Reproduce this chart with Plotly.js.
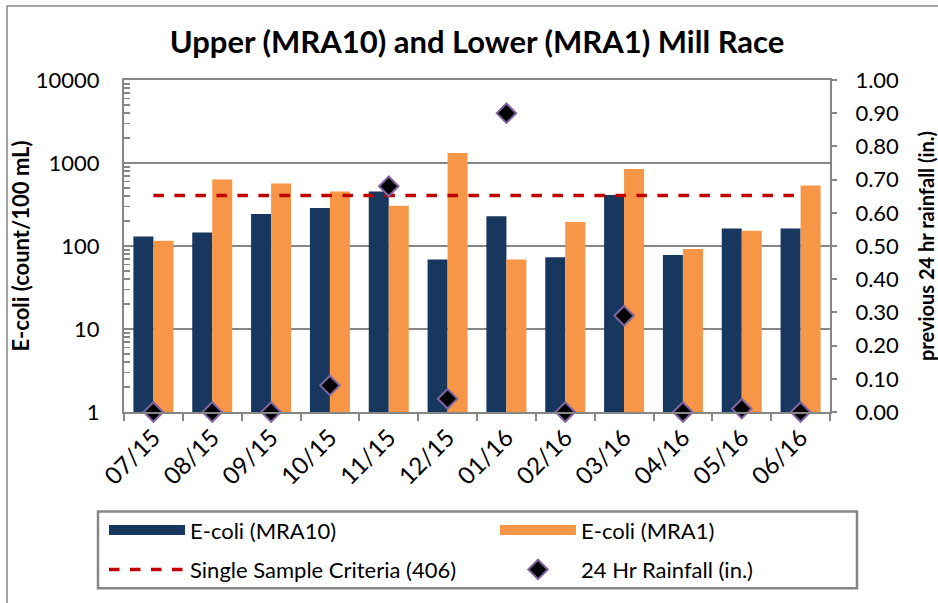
<!DOCTYPE html>
<html>
<head>
<meta charset="utf-8">
<script src="https://cdn.plot.ly/plotly-3.0.1.min.js"></script>
<style>html,body{margin:0;padding:0;background:#fff;}#chart{width:938px;height:603px;}</style>
</head>
<body>
<div id="chart"></div>
<script>
// ---- data ----
const months = ["07/15","08/15","09/15","10/15","11/15","12/15","01/16","02/16","03/16","04/16","05/16","06/16"];
const ecoliMRA10 = [130, 145, 243, 286, 452, 69, 228, 73, 412, 78, 163, 163];
const ecoliMRA1 = [116, 632, 567, 452, 305, 1320, 69, 194, 848, 92, 153, 537];
const criteriaValue = 406;
const rainfall = [0, 0, 0, 0.08, 0.68, 0.04, 0.90, 0, 0.29, 0, 0.01, 0];
const leftTicks = [1, 10, 100, 1000, 10000];
const rightTicks = [0, 0.1, 0.2, 0.3, 0.4, 0.5, 0.6, 0.7, 0.8, 0.9, 1.0];

const NAVY = "#17375E", ORANGE = "#F79646", RED = "#C00000", PURPLE = "#8064A2", GRAY = "#868686";
const FONT = "Lato, 'Open Sans', sans-serif";

// minor (log) tick positions: 2..9 within each decade
const minorTicks = [];
leftTicks.slice(0, -1).forEach(d => { for (let k = 2; k <= 9; k++) minorTicks.push(k * d); });

const traces = [
  {type: "bar", name: "E-coli (MRA10)", x: months, y: ecoliMRA10, marker: {color: NAVY}, showlegend: false},
  {type: "bar", name: "E-coli (MRA1)", x: months, y: ecoliMRA1, marker: {color: ORANGE}, showlegend: false},
  {type: "scatter", mode: "lines", name: "Single Sample Criteria (406)", x: months,
   y: months.map(() => criteriaValue), line: {color: RED, width: 3.5, dash: "dash"}, legend: "legend2"},
  {type: "scatter", mode: "markers", name: "24 Hr Rainfall (in.)", x: months, y: rainfall, yaxis: "y2",
   cliponaxis: false,
   marker: {symbol: "diamond", size: 15, color: "#000", line: {color: PURPLE, width: 2}}, legend: "legend2"},
  // legend proxies for bars (wide swatches like the original)
  {type: "scatter", mode: "lines", name: "E-coli (MRA10)", x: [null], y: [null], line: {color: NAVY, width: 17}, legend: "legend"},
  {type: "scatter", mode: "lines", name: "E-coli (MRA1)", x: [null], y: [null], line: {color: ORANGE, width: 17}, legend: "legend"}
];

const px = p => (p - 124) / 706;
const py = p => (417 - p) / 337;

const layout = {
  width: 938, height: 603,
  margin: {l: 124, r: 108, t: 80, b: 186},
  paper_bgcolor: "#fff", plot_bgcolor: "#fff",
  font: {family: FONT, color: "#000", size: 20},
  title: {text: "<b>Upper (MRA10) and Lower (MRA1) Mill Race</b>", font: {size: 31, family: FONT},
          x: 0.5, xref: "paper", xanchor: "center", y: 1 - 42 / 603, yanchor: "middle"},
  barmode: "group", bargap: 0.32, bargroupgap: 0,
  xaxis: {type: "category", range: [-0.5, 11.5], showline: true, linecolor: GRAY, linewidth: 2, mirror: true,
          ticks: "outside", ticklen: 7, tickwidth: 2, tickcolor: GRAY, tickson: "boundaries",
          tickangle: -45, tickfont: {size: 24}, showgrid: false, zeroline: false},
  yaxis: {type: "log", range: [0, 4], tickmode: "array", tickvals: leftTicks, ticktext: leftTicks.map(String),
          showline: true, linecolor: GRAY, linewidth: 2, ticks: "inside", ticklen: 8, tickwidth: 2, tickcolor: GRAY,
          minor: {tickmode: "array", tickvals: minorTicks, ticks: "inside", ticklen: 6, tickwidth: 1.5,
                  tickcolor: GRAY, showgrid: false},
          showgrid: true, gridcolor: GRAY, gridwidth: 1.5, tickfont: {size: 22}, ticklabelstandoff: 18,
          title: {text: "<b>E-coli (count/100 mL)</b>", font: {size: 22}, standoff: 0}, zeroline: false},
  yaxis2: {overlaying: "y", side: "right", range: [0, 1], tickvals: rightTicks,
           ticktext: rightTicks.map(v => v.toFixed(2)), showline: true, linecolor: GRAY, linewidth: 2,
           ticks: "outside", ticklen: 5, tickwidth: 2, tickcolor: GRAY, showgrid: false, zeroline: false,
           tickfont: {size: 22}, ticklabelstandoff: 14,
           title: {text: "<b>previous 24 hr rainfall (in.)</b>", font: {size: 20}, standoff: 24}},
  legend: {orientation: "h", x: px(104), xanchor: "left", y: py(537), yanchor: "middle",
           entrywidth: 300, itemwidth: 76, font: {size: 22}, bgcolor: "rgba(0,0,0,0)", traceorder: "normal"},
  legend2: {orientation: "h", x: px(104), xanchor: "left", y: py(577), yanchor: "middle",
            entrywidth: 300, itemwidth: 76, font: {size: 22}, bgcolor: "rgba(0,0,0,0)", traceorder: "normal"},
  shapes: [
    {type: "rect", xref: "paper", yref: "paper", x0: px(98), x1: px(857), y0: py(596), y1: py(518),
     line: {color: GRAY, width: 2.5}, fillcolor: "rgba(0,0,0,0)", layer: "below"},
    {type: "rect", xref: "paper", yref: "paper", x0: px(7), x1: px(960), y0: py(640), y1: py(5),
     line: {color: GRAY, width: 1.5}, fillcolor: "rgba(0,0,0,0)", layer: "below"}
  ]
};

Plotly.newPlot("chart", traces, layout, {displayModeBar: false, staticPlot: true});
</script>
</body>
</html>
